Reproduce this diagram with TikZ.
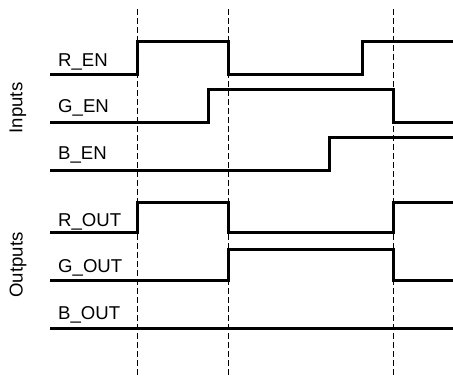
\documentclass[tikz,border=0pt]{standalone}
\usepackage{fontspec}
\setmainfont{Liberation Sans}
\usetikzlibrary{positioning}
\newcommand{\sigFont}{\fontsize{18.6}{22}\selectfont}

\tikzset{
	wave/.style={line width=3pt},
	marker/.style={line width=0.9pt, dash pattern=on 6pt off 3pt},
	siglabel/.style={anchor=base west, inner sep=0pt, font=\sigFont},
	grouplabel/.style={rotate=90, inner sep=0pt, font=\sigFont}
}

\begin{document}
\begin{tikzpicture}[x=1pt, y=-1pt]
		\useasboundingbox (0,0) rectangle (453,376);
		\coordinate (top) at (0,9);
		\coordinate (bot) at (0,376);
		\coordinate (t1) at (137,0);
		\coordinate (t2) at (228,0);
		\coordinate (t3) at (393,0);
		
		%time marks
		\foreach \t in {t1,t2,t3}
			\draw[marker] (\t |- top) -- (\t |- bot);
		
		%inputs
		\node[grouplabel] (inputs) at (18,108) {Inputs};
		\node[siglabel] (ren) at (58,66) {R\_EN};
		\node[siglabel] (gen) at (58,112) {G\_EN};
		\node[siglabel] (ben) at (58,159) {B\_EN};
		\draw[wave] (50,74) -| (137,41) -| (228,74) -| (362,41) -- (453,41);
		\draw[wave] (50,122) -| (208,89) -| (393,122) -- (453,122);
		\draw[wave] (50,170) -| (329,137) -- (453,137);
		
		%outputs
		\node[grouplabel] (outputs) at (18,265) {Outputs};
		\node[siglabel] (rout) at (58,226) {R\_OUT};
		\node[siglabel] (gout) at (58,272) {G\_OUT};
		\node[siglabel] (bout) at (58,319) {B\_OUT};
		\draw[wave] (50,232) -| (137,202) -| (228,232) -| (393,202) -- (453,202);
		\draw[wave] (50,280) -| (228,249) -| (393,280) -- (453,280);
		\draw[wave] (50,328) -- (453,328);
	\end{tikzpicture}
\end{document}
